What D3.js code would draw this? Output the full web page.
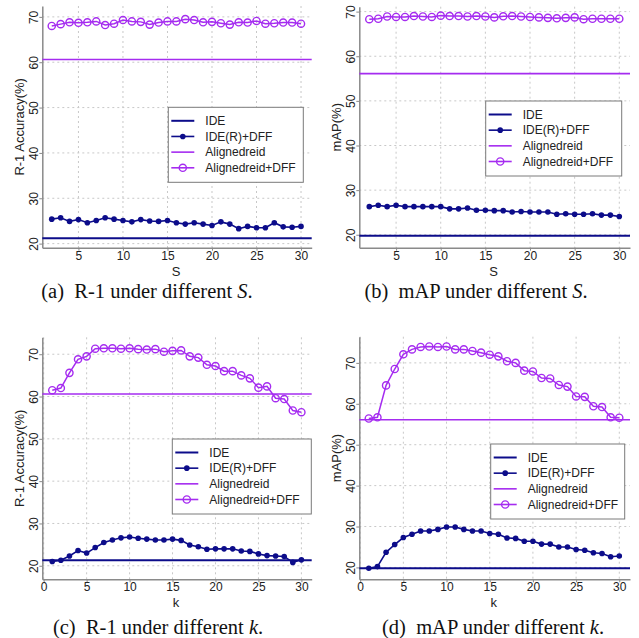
<!DOCTYPE html>
<html>
<head>
<meta charset="utf-8">
<script src="https://cdn.jsdelivr.net/npm/d3@7"></script>
<style>
  body { margin: 0; background: #fff; }
  svg { display: block; }
</style>
</head>
<body>
<svg width="639" height="638"></svg>
<script>
// x values
const sValues = d3.range(2, 31);   // S = 2..30
const kValues = d3.range(1, 31);   // k = 1..30

// (a) R-1 under different S
const r1S_ide = 21.2;
const r1S_aligned = 60.6;
const r1S_ideDff = [25.4, 25.7, 24.9, 25.3, 24.6, 25.1, 25.7, 25.4, 25.1, 24.8, 25.3, 25.0, 24.9, 25.1, 24.6,
  24.3, 24.6, 24.3, 24.0, 24.8, 24.3, 23.3, 23.8, 23.5, 23.5, 24.6, 23.7, 23.6, 23.8];
const r1S_alignedDff = [68.0, 68.4, 68.8, 68.7, 68.8, 69.0, 68.2, 68.5, 69.3, 69.0, 68.9, 68.3, 68.75, 69.0, 69.0,
  69.5, 69.3, 68.8, 68.9, 68.6, 68.3, 68.8, 68.75, 69.1, 68.5, 68.6, 68.75, 68.75, 68.5];

// (b) mAP under different S
const mapS_ide = 19.8;
const mapS_aligned = 56.1;
const mapS_ideDff = [26.3, 26.6, 26.3, 26.6, 26.3, 26.3, 26.3, 26.3, 26.3, 25.8, 25.8, 26.0, 25.5, 25.5, 25.4,
  25.4, 25.1, 25.2, 25.1, 25.1, 25.1, 24.6, 24.7, 24.6, 24.6, 24.7, 24.4, 24.4, 24.1];
const mapS_alignedDff = [68.3, 68.4, 68.9, 68.8, 68.8, 69.0, 68.9, 68.8, 69.1, 69.0, 69.0, 68.9, 69.0, 68.9, 68.7,
  68.95, 69.0, 68.9, 68.8, 68.7, 68.6, 68.5, 68.6, 68.7, 68.3, 68.4, 68.4, 68.4, 68.4];

// (c) R-1 under different k
const r1K_ide = 21.3;
const r1K_aligned = 60.6;
const r1K_ideDff = [21.0, 21.3, 22.3, 23.6, 23.0, 24.3, 25.5, 26.1, 26.6, 26.8, 26.5, 26.3, 26.1, 26.1, 26.3,
  26.0, 24.9, 24.5, 23.9, 24.0, 24.0, 24.0, 23.5, 23.4, 22.8, 22.4, 22.3, 22.2, 20.8, 21.4];
const r1K_alignedDff = [61.5, 62.0, 65.6, 68.8, 69.5, 71.3, 71.4, 71.4, 71.3, 71.4, 71.2, 71.1, 71.2, 70.6, 70.8,
  70.9, 69.5, 69.2, 67.5, 67.2, 66.0, 66.0, 65.0, 64.3, 62.1, 62.4, 59.6, 59.4, 56.7, 56.3];

// (d) mAP under different k
const mapK_ide = 19.8;
const mapK_aligned = 56.1;
const mapK_ideDff = [19.8, 20.2, 23.7, 25.6, 27.3, 28.1, 28.9, 28.9, 29.3, 29.9, 29.9, 29.3, 28.9, 28.9, 28.3,
  28.1, 27.2, 27.1, 26.4, 26.4, 25.7, 25.7, 25.0, 25.0, 24.4, 24.2, 23.6, 23.4, 22.6, 22.8];
const mapK_alignedDff = [56.4, 56.7, 64.5, 68.5, 72.1, 73.3, 73.9, 74.0, 73.9, 74.0, 73.3, 73.3, 72.9, 72.5, 72.0,
  71.6, 70.4, 70.0, 68.1, 67.9, 66.3, 66.2, 64.6, 64.2, 61.8, 61.7, 59.4, 59.2, 56.7, 56.6];

const seriesNames = ["IDE", "IDE(R)+DFF", "Alignedreid", "Alignedreid+DFF"];
const yTicks = [20, 30, 40, 50, 60, 70];
const xTicksS = [5, 10, 15, 20, 25, 30];
const xTicksK = [0, 5, 10, 15, 20, 25, 30];

const navy = "#0c0c8a";
const purple = "#a52cf0";

const svg = d3.select("svg");

const panels = [
  { box: [42.3, 311.7, 6, 247.7], xd: [0.94, 31.2], yd: [19.1, 72.4], xs: sValues, xt: xTicksS,
    ide: r1S_ide, al: r1S_aligned, ideDff: r1S_ideDff, alDff: r1S_alignedDff,
    ylabel: "R-1 Accuracy(%)", xlabel: "S", leg: [168.3, 107.3, 135, 75],
    cap: ["(a)  R-1 under different ", "S", "."], capX: 147, capY: 298 },
  { box: [359.3, 630, 6.7, 247.7], xd: [0.88, 31.2], yd: [17.1, 71.1], xs: sValues, xt: xTicksS,
    ide: mapS_ide, al: mapS_aligned, ideDff: mapS_ideDff, alDff: mapS_alignedDff,
    ylabel: "mAP(%)", xlabel: "S", leg: [485.7, 101, 136, 75],
    cap: ["(b)  mAP under different ", "S", "."], capX: 476, capY: 298 },
  { box: [42.3, 311.7, 337.3, 579.3], xd: [-0.16, 31.2], yd: [16.8, 74], xs: kValues, xt: xTicksK,
    ide: r1K_ide, al: r1K_aligned, ideDff: r1K_ideDff, alDff: r1K_alignedDff,
    ylabel: "R-1 Accuracy(%)", xlabel: "k", leg: [172.3, 439, 139, 75],
    cap: ["(c)  R-1 under different ", "k", "."], capX: 158, capY: 634 },
  { box: [359.3, 630, 336.7, 579.3], xd: [-0.1, 31.24], yd: [17.1, 76.4], xs: kValues, xt: xTicksK,
    ide: mapK_ide, al: mapK_aligned, ideDff: mapK_ideDff, alDff: mapK_alignedDff,
    ylabel: "mAP(%)", xlabel: "k", leg: [490.7, 444, 134, 75],
    cap: ["(d)  mAP under different ", "k", "."], capX: 493, capY: 634 }
];

panels.forEach(p => {
  const [l, r, t, b] = p.box;
  const x = d3.scaleLinear().domain(p.xd).range([l, r]);
  const y = d3.scaleLinear().domain(p.yd).range([b, t]);
  const g = svg.append("g");

  // dotted grid
  g.selectAll(".vg").data(p.xt.filter(d => d > p.xd[0])).enter().append("line")
    .attr("x1", d => x(d)).attr("x2", d => x(d)).attr("y1", t).attr("y2", b)
    .attr("stroke", "#c8c8c8").attr("stroke-width", 1).attr("stroke-dasharray", "2,3");
  g.selectAll(".hg").data(yTicks).enter().append("line")
    .attr("x1", l).attr("x2", r).attr("y1", d => y(d)).attr("y2", d => y(d))
    .attr("stroke", "#c8c8c8").attr("stroke-width", 1).attr("stroke-dasharray", "2,3");

  // axes
  const xAxis = g.append("g").attr("transform", "translate(0," + b + ")")
    .call(d3.axisBottom(x).tickValues(p.xt).tickSize(3).tickSizeOuter(0));
  const yAxis = g.append("g").attr("transform", "translate(" + l + ",0)")
    .call(d3.axisLeft(y).tickValues(yTicks).tickSize(3).tickSizeOuter(0));
  [xAxis, yAxis].forEach(a => {
    a.select(".domain").attr("stroke", "#8a8a8a").attr("stroke-width", 1.5);
    a.selectAll(".tick line").attr("stroke", "#8a8a8a");
    a.selectAll("text").attr("fill", "#222").style("font-family", "'Liberation Sans', Arial, sans-serif")
      .style("font-size", "12px");
  });
  xAxis.selectAll("text").attr("y", 2).attr("dy", "0.85em");
  yAxis.selectAll("text")
    .attr("x", null).attr("dy", null)
    .attr("text-anchor", "middle")
    .attr("transform", "translate(-9,0) rotate(-90)")
    .attr("y", 0).attr("dy", "0.35em");

  // axis titles
  g.append("text").attr("x", (l + r) / 2 - 1).attr("y", b + 28)
    .attr("text-anchor", "middle").style("font-family", "'Liberation Sans', Arial, sans-serif")
    .style("font-size", "13px").attr("fill", "#222").text(p.xlabel);
  g.append("text").attr("transform", "translate(" + (l - 23) + "," + ((t + b) / 2) + ") rotate(-90)")
    .attr("text-anchor", "middle").attr("dy", "0.35em")
    .style("font-family", "'Liberation Sans', Arial, sans-serif")
    .style("font-size", "13px").attr("fill", "#222").text(p.ylabel);

  // horizontal baselines
  g.append("line").attr("x1", l).attr("x2", r).attr("y1", y(p.ide)).attr("y2", y(p.ide))
    .attr("stroke", navy).attr("stroke-width", 2);
  g.append("line").attr("x1", l).attr("x2", r).attr("y1", y(p.al)).attr("y2", y(p.al))
    .attr("stroke", purple).attr("stroke-width", 1.6);

  const line = d3.line().x(d => x(d[0])).y(d => y(d[1]));
  const ideDff = p.xs.map((v, i) => [v, p.ideDff[i]]);
  const alDff = p.xs.map((v, i) => [v, p.alDff[i]]);

  g.append("path").datum(ideDff).attr("d", line).attr("fill", "none")
    .attr("stroke", navy).attr("stroke-width", 1.6);
  g.selectAll(".dot").data(ideDff).enter().append("circle")
    .attr("cx", d => x(d[0])).attr("cy", d => y(d[1])).attr("r", 2.8).attr("fill", navy);

  g.append("path").datum(alDff).attr("d", line).attr("fill", "none")
    .attr("stroke", purple).attr("stroke-width", 1.5);
  g.selectAll(".ring").data(alDff).enter().append("circle")
    .attr("cx", d => x(d[0])).attr("cy", d => y(d[1])).attr("r", 3.6)
    .attr("fill", "none").attr("stroke", purple).attr("stroke-width", 1.4);

  // legend
  const [lx, ly, lw, lh] = p.leg;
  const leg = g.append("g").attr("transform", "translate(" + lx + "," + ly + ")");
  leg.append("rect").attr("width", lw).attr("height", lh).attr("fill", "#fff")
    .attr("stroke", "#7a7a7a").attr("stroke-width", 1);
  const rowY = d3.scalePoint().domain(seriesNames).range([13.5, 60.5]);
  seriesNames.forEach((name, i) => {
    const yy = rowY(name);
    const col = i < 2 ? navy : purple;
    leg.append("line").attr("x1", 3).attr("x2", 26).attr("y1", yy).attr("y2", yy)
      .attr("stroke", col).attr("stroke-width", i === 0 ? 2 : 1.6);
    if (i === 1) leg.append("circle").attr("cx", 14.5).attr("cy", yy).attr("r", 2.8).attr("fill", navy);
    if (i === 3) leg.append("circle").attr("cx", 14.5).attr("cy", yy).attr("r", 3.6)
      .attr("fill", "none").attr("stroke", purple).attr("stroke-width", 1.4);
    leg.append("text").attr("x", 37).attr("y", yy).attr("dy", "0.36em")
      .style("font-family", "'Liberation Sans', Arial, sans-serif").style("font-size", "12px")
      .attr("fill", "#222").text(name);
  });

  // caption
  const cap = svg.append("text").attr("x", p.capX).attr("y", p.capY).attr("text-anchor", "middle")
    .style("font-family", "'Liberation Serif', 'Times New Roman', serif").style("font-size", "20.5px")
    .attr("fill", "#111");
  cap.append("tspan").attr("xml:space", "preserve").style("white-space", "pre").text(p.cap[0]);
  cap.append("tspan").style("font-style", "italic").text(p.cap[1]);
  cap.append("tspan").text(p.cap[2]);
});
</script>
</body>
</html>
